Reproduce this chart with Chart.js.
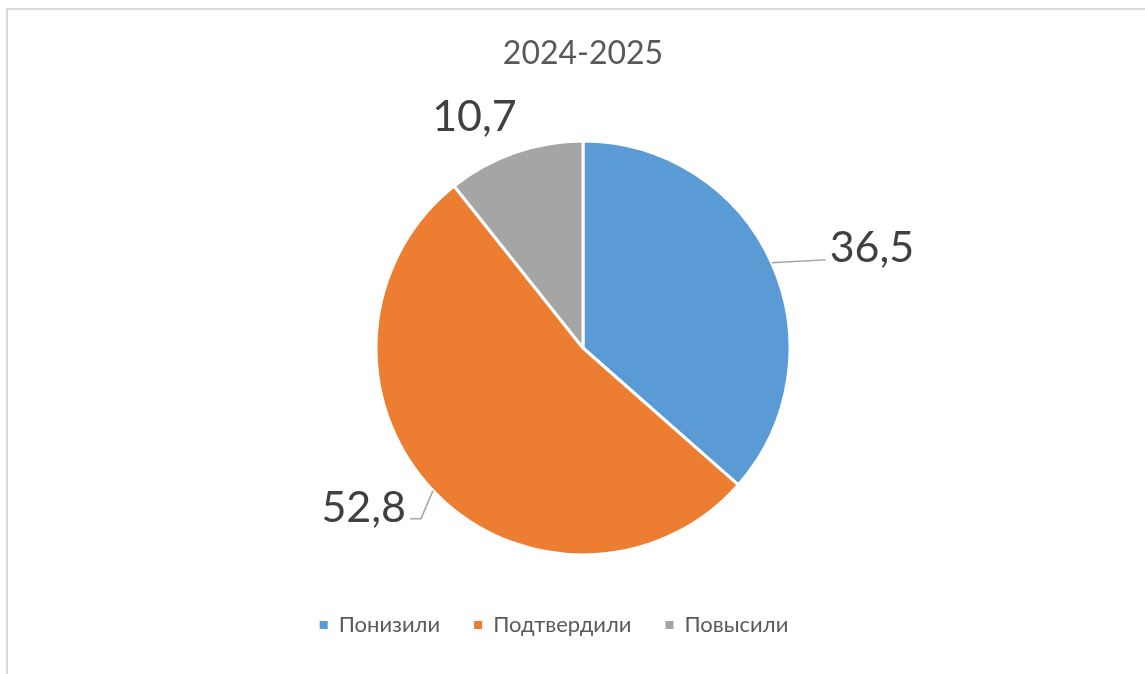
<!DOCTYPE html>
<html>
<head>
<meta charset="utf-8">
<script src="https://cdn.jsdelivr.net/npm/chart.js@4.4.1/dist/chart.umd.min.js"></script>
<style>
  html, body { margin: 0; padding: 0; background: #ffffff; overflow: hidden; }
  #wrap { position: relative; width: 1145px; height: 674px; }
  #frame { position: absolute; left: 6px; top: 8px; width: 1200px; height: 700px; border: 2px solid #d9d9d9; box-sizing: border-box; }
  #c { position: absolute; left: 0; top: 0; }
</style>
</head>
<body>
<div id="wrap">
  <div id="frame"></div>
  <canvas id="c" width="1145" height="674"></canvas>
</div>
<script>
// ---- data ----
const chartTitle = '2024-2025';
const categories = ['Понизили', 'Подтвердили', 'Повысили'];
const values = [36.5, 52.8, 10.7];
const valueLabels = ['36,5', '52,8', '10,7'];
const sliceColors = ['#5B9BD5', '#ED7D31', '#A5A5A5'];

const FONT = 'Lato, "Open Sans", "DejaVu Sans", sans-serif';

// label placement relative to the slice's outer edge at its mid-angle
const labelPlacement = [
  { dx: 58, dy: -1, align: 'left', leader: [[54, -3]] },
  { dx: -27, dy: 31, align: 'right', leader: [[-12, 28], [-23, 28]] },
  { dx: 2, dy: -21.6, align: 'right', leader: null }
];

const pieLabels = {
  id: 'pieLabels',
  afterDatasetsDraw(chart) {
    const ctx = chart.ctx;
    const meta = chart.getDatasetMeta(0);
    meta.data.forEach((arc, i) => {
      const p = arc.getProps(['x', 'y', 'startAngle', 'endAngle', 'outerRadius'], true);
      const mid = (p.startAngle + p.endAngle) / 2;
      const ex = p.x + Math.cos(mid) * p.outerRadius;
      const ey = p.y + Math.sin(mid) * p.outerRadius;
      const pl = labelPlacement[i];
      ctx.save();
      if (pl.leader) {
        ctx.strokeStyle = '#A6A6A6';
        ctx.lineWidth = 1.5;
        ctx.beginPath();
        ctx.moveTo(ex, ey);
        pl.leader.forEach(([lx, ly]) => ctx.lineTo(ex + lx, ey + ly));
        ctx.stroke();
      }
      ctx.fillStyle = '#404040';
      ctx.font = '43px ' + FONT;
      ctx.textAlign = pl.align;
      ctx.textBaseline = 'alphabetic';
      ctx.fillText(valueLabels[i], ex + pl.dx, ey + pl.dy);
      ctx.restore();
    });
  }
};

const legendShift = {
  id: 'legendShift',
  afterLayout(chart) {
    const lg = chart.legend;
    if (lg) { lg.left -= 29; lg.right -= 29; }
  }
};

new Chart(document.getElementById('c'), {
  type: 'pie',
  data: {
    labels: categories,
    datasets: [{
      data: values,
      backgroundColor: sliceColors,
      borderColor: '#ffffff',
      borderWidth: 3,
      radius: 207
    }]
  },
  options: {
    responsive: false,
    animation: false,
    layout: { padding: { left: 21, right: 0, top: 0, bottom: 28 } },
    plugins: {
      title: {
        display: true,
        text: chartTitle,
        color: '#595959',
        font: { family: FONT, size: 32, weight: 'normal' },
        padding: { top: 34, bottom: 43.6 }
      },
      legend: {
        display: true,
        position: 'bottom',
        labels: {
          color: '#595959',
          font: { family: FONT, size: 22 },
          boxWidth: 8,
          boxHeight: 8,
          padding: 34,
          generateLabels(chart) {
            return chart.data.labels.map((label, i) => ({
              text: label,
              fillStyle: sliceColors[i],
              strokeStyle: sliceColors[i],
              lineWidth: 0,
              fontColor: '#595959',
              hidden: false,
              index: i
            }));
          }
        }
      },
      tooltip: { enabled: false }
    }
  },
  plugins: [pieLabels, legendShift]
});
</script>
</body>
</html>
